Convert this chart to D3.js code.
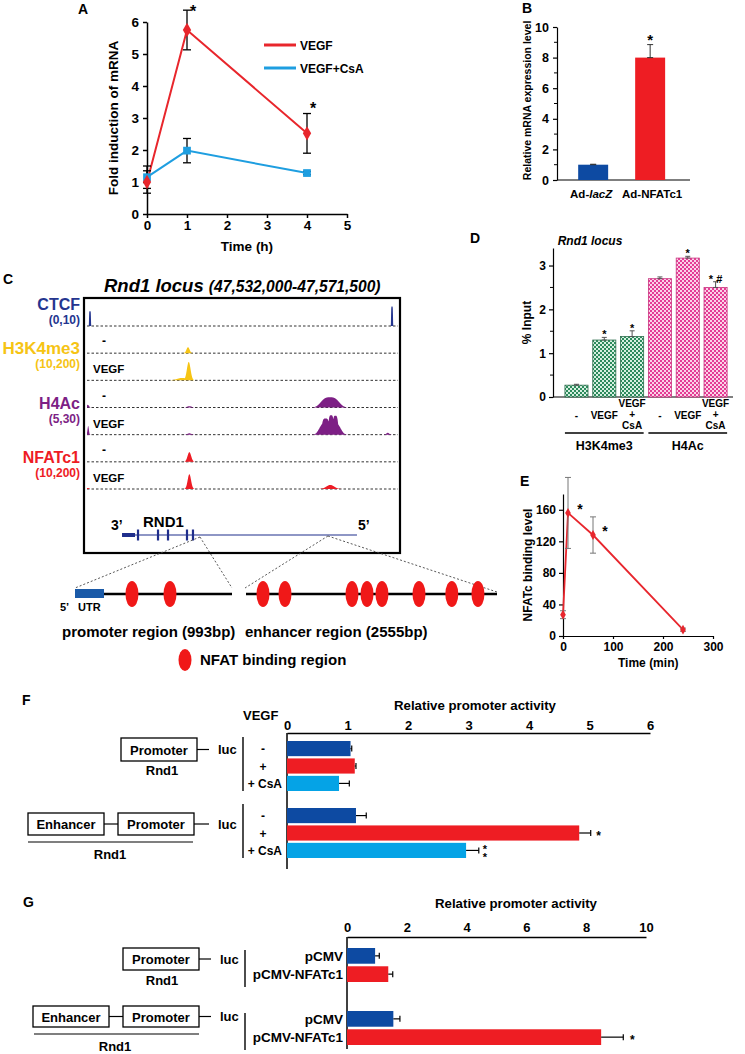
<!DOCTYPE html>
<html><head><meta charset="utf-8">
<script src="https://cdn.jsdelivr.net/npm/d3@7/dist/d3.min.js"></script>
<style>
html,body{margin:0;padding:0;background:#fff;}
svg{display:block;}
</style></head><body>
<svg id="fig" width="745" height="1054"></svg>
<script>
// ================= DATA =================
// Panel A
const aTime = [0, 1, 4];
const aVegf = [1.0, 5.75, 2.52];
const aVegfErr = [0.35, 0.62, 0.62];
const aCsa = [1.15, 1.98, 1.28];
const aCsaErr = [0.35, 0.38, 0.05];
const aStarTimes = [1, 4];
const aXTicks = [0, 1, 2, 3, 4, 5];
const aYTicks = [0, 1, 2, 3, 4, 5, 6];
const aSeries = ["VEGF", "VEGF+CsA"];

// Panel B
const bCats = ["Ad-lacZ", "Ad-NFATc1"];
const bVals = [1.0, 8.0];
const bErr = [0.03, 0.85];
const bStars = ["", "*"];
const bYTicks = [0, 2, 4, 6, 8, 10];
const bYMinor = [1, 3, 5, 7, 9];

// Panel C
const cFactors = ["CTCF", "H3K4me3", "H4Ac", "NFATc1"];
const cRanges = ["(0,10)", "(10,200)", "(5,30)", "(10,200)"];
const cRows = ["CTCF", "H3K4me3 -", "H3K4me3 VEGF", "H4Ac -", "H4Ac VEGF", "NFATc1 -", "NFATc1 VEGF"];
const cRowFactor = [0, 1, 1, 2, 2, 3, 3];
const cRowTreat = ["", "-", "VEGF", "-", "VEGF", "-", "VEGF"];
const cSpanKb = [0, 39.5];
// [row, centre kb, width kb, relative height, shape exponent]
const cPeaks = [
  ["CTCF", 0.38, 0.13, 0.55, 8],
  ["CTCF", 38.74, 0.13, 0.72, 8],
  ["H3K4me3 -", 12.83, 0.28, 0.22, 2],
  ["H3K4me3 VEGF", 12.92, 0.33, 0.68, 2],
  ["H3K4me3 VEGF", 12.1, 0.9, 0.09, 2],
  ["H4Ac -", 30.86, 1.35, 0.38, 3],
  ["H4Ac -", 0.1, 0.2, 0.1, 2],
  ["H4Ac -", 13.0, 0.4, 0.05, 2],
  ["H4Ac VEGF", 30.3, 0.55, 0.6, 4],
  ["H4Ac VEGF", 31.0, 0.4, 0.72, 4],
  ["H4Ac VEGF", 31.55, 0.4, 0.7, 4],
  ["H4Ac VEGF", 30.86, 1.45, 0.5, 4],
  ["H4Ac VEGF", 0.15, 0.12, 0.32, 2],
  ["H4Ac VEGF", 13.0, 0.35, 0.05, 2],
  ["H4Ac VEGF", 38.2, 0.25, 0.07, 2],
  ["NFATc1 -", 13.0, 0.32, 0.36, 2],
  ["NFATc1 VEGF", 13.0, 0.3, 0.55, 2],
  ["NFATc1 VEGF", 30.9, 0.7, 0.15, 2],
  ["NFATc1 VEGF", 0.1, 0.2, 0.04, 2]
];
const cGeneKb = [4.45, 34.29];
const cGeneUtrKb = [4.45, 6.1];
const cExonKb = [6.48, 9.02, 10.29, 12.70, 13.46];
const cPromAnchorKb = 14.35;
const cEnhAnchorKb = 30.6;
const cPromBp = [-225, 993];
const cPromSites = [217, 512];
const cEnhBp = [0, 2555];
const cEnhSites = [173, 397, 1079, 1232, 1384, 1761, 2095, 2361];

// Panel D
const dGroups = ["H3K4me3", "H4Ac"];
const dConds = ["-", "VEGF", "VEGF+CsA"];
const dVals = [[0.27, 1.30, 1.38], [2.70, 3.17, 2.50]];
const dErr = [[0.02, 0.06, 0.13], [0.04, 0.04, 0.13]];
const dStars = [["", "*", "*"], ["", "*", "* #"]];
const dYTicks = [0, 1, 2, 3];
const dYMinor = [0.5, 1.5, 2.5];

// Panel E
const eTime = [0, 10, 60, 240];
const eVals = [27, 156, 128, 8];
const eErr = [5, 45, 23, 2];
const eStarTimes = [10, 60];
const eXTicks = [0, 100, 200, 300];
const eYTicks = [0, 40, 80, 120, 160];

// Panel F
const fConstructs = ["Promoter", "Enhancer-Promoter"];
const fConds = ["-", "+", "+ CsA"];
const fVals = [[1.05, 1.12, 0.86], [1.14, 4.83, 2.96]];
const fErr = [[0.02, 0.02, 0.17], [0.17, 0.19, 0.21]];
const fStars = [["", "", ""], ["", "*", "**"]];
const fTicks = [0, 1, 2, 3, 4, 5, 6];

// Panel G
const gConstructs = ["Promoter", "Enhancer-Promoter"];
const gConds = ["pCMV", "pCMV-NFATc1"];
const gVals = [[0.94, 1.38], [1.55, 8.5]];
const gErr = [[0.14, 0.15], [0.22, 0.74]];
const gStars = [["", ""], ["", "*"]];
const gTicks = [0, 2, 4, 6, 8, 10];

// ================= STYLE =================
const FONT = '"Liberation Sans", Arial, Helvetica, sans-serif';
const RED = "#ee1d23", BLUE = "#0d4aa2", LBLUE = "#05a3e6";
const A_RED = "#e8262c", A_BLUE = "#1e9ee0";
const C_COL = ["#24358f", "#f6c414", "#7d1f85", "#ee1c25"];
const intFmt = d3.format("d");

const svg = d3.select("#fig").attr("font-family", FONT);

function T(g, x, y, s, o = {}) {
  const t = g.append("text").attr("x", x).attr("y", y).text(s)
    .attr("font-size", o.size || 13).attr("font-weight", o.weight || "bold")
    .attr("text-anchor", o.anchor || "start").attr("fill", o.fill || "#000")
    .attr("font-family", FONT);
  if (o.italic) t.attr("font-style", "italic");
  if (o.rotate) t.attr("transform", `rotate(${o.rotate},${x},${y})`);
  return t;
}
function styleAxis(sel, size, sw = 1.5) {
  sel.attr("font-family", FONT).attr("font-size", size).attr("font-weight", "bold");
  sel.selectAll("path,line").attr("stroke", "#000").attr("stroke-width", sw);
  sel.selectAll("text").attr("fill", "#000");
}
function vErr(g, x, y1, y2, cap, col = "#000", sw = 1.3) {
  g.append("line").attr("x1", x).attr("x2", x).attr("y1", y1).attr("y2", y2).attr("stroke", col).attr("stroke-width", sw);
  [y1, y2].forEach(y => g.append("line").attr("x1", x - cap / 2).attr("x2", x + cap / 2).attr("y1", y).attr("y2", y).attr("stroke", col).attr("stroke-width", sw));
}

// ================= PANEL A =================
{
  const g = svg.append("g");
  const x = d3.scaleLinear().domain([0, 5]).range([147, 347]);
  const y = d3.scaleLinear().domain([0, 6]).range([214, 22]);
  const ax = g.append("g").attr("transform", `translate(0,${y(0)})`)
    .call(d3.axisBottom(x).tickValues(aXTicks).tickFormat(intFmt).tickSize(4).tickSizeOuter(0).tickPadding(2));
  styleAxis(ax, 13.5);
  const ay = g.append("g").attr("transform", `translate(${x(0)},0)`)
    .call(d3.axisLeft(y).tickValues(aYTicks).tickFormat(intFmt).tickSize(4).tickSizeOuter(0).tickPadding(4));
  styleAxis(ay, 13.5);
  T(g, 118, y(3), "Fold induction of mRNA", { size: 13.5, anchor: "middle", rotate: -90 });
  T(g, x(2.5), 251, "Time (h)", { size: 13.5, anchor: "middle" });
  T(g, 78, 14, "A", { size: 14 });

  const line = d3.line().x((d, i) => x(aTime[i])).y(d => y(d));
  g.append("path").datum(aCsa).attr("d", line).attr("fill", "none").attr("stroke", A_BLUE).attr("stroke-width", 2);
  g.append("path").datum(aVegf).attr("d", line).attr("fill", "none").attr("stroke", A_RED).attr("stroke-width", 2);
  aCsa.forEach((v, i) => vErr(g, x(aTime[i]), y(v - aCsaErr[i]), y(v + aCsaErr[i]), 8));
  aVegf.forEach((v, i) => vErr(g, x(aTime[i]), y(v - aVegfErr[i]), y(v + aVegfErr[i]), 8));
  aCsa.forEach((v, i) => g.append("path").attr("d", d3.symbol(d3.symbolSquare, 60)())
    .attr("transform", `translate(${x(aTime[i])},${y(v)})`).attr("fill", A_BLUE));
  aVegf.forEach((v, i) => g.append("path").attr("d", d3.symbol(d3.symbolDiamond, 60)())
    .attr("transform", `translate(${x(aTime[i])},${y(v)})`).attr("fill", A_RED));
  aStarTimes.forEach(t => {
    const i = aTime.indexOf(t);
    T(g, x(t) + 6, Math.max(y(aVegf[i] + aVegfErr[i]), 17), "*", { size: 16, anchor: "middle" });
  });
  const lc = [A_RED, A_BLUE];
  aSeries.forEach((s, i) => {
    g.append("line").attr("x1", 264).attr("x2", 296).attr("y1", 45 + i * 23).attr("y2", 45 + i * 23)
      .attr("stroke", lc[i]).attr("stroke-width", 3);
    T(g, 300, 49.5 + i * 23, s, { size: 12 });
  });
}

// ================= PANEL B =================
{
  const g = svg.append("g");
  const y = d3.scaleLinear().domain([0, 10]).range([180, 27]);
  const x = d3.scaleBand().domain(bCats).range([557, 690]).paddingInner(0.474).paddingOuter(0.404).align(0.46);
  const ay = g.append("g").attr("transform", "translate(557,0)")
    .call(d3.axisLeft(y).tickValues(bYTicks).tickFormat(intFmt).tickSize(4).tickSizeOuter(0).tickPadding(4));
  styleAxis(ay, 12.5, 1.2);
  bYMinor.forEach(v => g.append("line").attr("x1", 557).attr("x2", 554).attr("y1", y(v)).attr("y2", y(v)).attr("stroke", "#000").attr("stroke-width", 1));
  g.append("line").attr("x1", x.range()[0]).attr("x2", x.range()[1]).attr("y1", y(0)).attr("y2", y(0)).attr("stroke", "#000").attr("stroke-width", 1.2);
  const cols = [BLUE, RED];
  bCats.forEach((c, i) => {
    g.append("rect").attr("x", x(c)).attr("y", y(bVals[i])).attr("width", x.bandwidth()).attr("height", y(0) - y(bVals[i])).attr("fill", cols[i]);
    vErr(g, x(c) + x.bandwidth() / 2, y(bVals[i]), y(bVals[i] + bErr[i]), 6, "#333", 1);
    if (bStars[i]) T(g, x(c) + x.bandwidth() / 2, y(bVals[i] + bErr[i]), bStars[i], { size: 15, anchor: "middle" });
  });
  const t1 = T(g, x(bCats[0]) + x.bandwidth() / 2 - 2, 198, "", { size: 11.5, anchor: "middle" });
  t1.append("tspan").text("Ad-");
  t1.append("tspan").text("lacZ").attr("font-style", "italic");
  T(g, x(bCats[1]) + x.bandwidth() / 2 + 2, 198, bCats[1], { size: 11.5, anchor: "middle" });
  T(g, 531, y(5.2), "Relative mRNA expression level", { size: 10.5, anchor: "middle", rotate: -90 });
  T(g, 522, 13, "B", { size: 14 });
}

// ================= PANEL C =================
{
  const g = svg.append("g");
  const x = d3.scaleLinear().domain(cSpanKb).range([87, 398]);
  const rowY = d3.scalePoint().domain(cRows).range([326, 489]);
  const h = d3.scaleLinear().domain([0, 1]).range([0, 27]);
  T(g, 3, 284, "C", { size: 14 });
  const tt = T(g, 104, 292, "", { italic: true });
  tt.append("tspan").text("Rnd1 locus ").attr("font-size", 18.5);
  tt.append("tspan").text("(47,532,000-47,571,500)").attr("font-size", 15.6);
  g.append("rect").attr("x", 84).attr("y", 298).attr("width", 316).attr("height", 255)
    .attr("fill", "none").attr("stroke", "#000").attr("stroke-width", 2.2);
  cRows.forEach(r => g.append("line").attr("x1", x(cSpanKb[0])).attr("x2", x(cSpanKb[1]))
    .attr("y1", rowY(r)).attr("y2", rowY(r)).attr("stroke", "#333").attr("stroke-width", 1).attr("stroke-dasharray", "2.5,2"));
  const kbs = d3.range(cSpanKb[0], cSpanKb[1] + 0.001, 0.02);
  cRows.forEach((r, i) => {
    const comps = cPeaks.filter(p => p[0] === r);
    const prof = kbs.map(k => [k, d3.max(comps, c => c[3] * Math.exp(-Math.pow(Math.abs((k - c[1]) / c[2]), c[4]))) || 0]);
    const area = d3.area().x(d => x(d[0])).y0(rowY(r)).y1(d => rowY(r) - h(d[1]));
    g.append("path").datum(prof).attr("d", area).attr("fill", C_COL[cRowFactor[i]]);
    if (cRowTreat[i]) {
      if (cRowTreat[i] === "-") T(g, 102, rowY(r) - 8, "-", { size: 12 });
      else T(g, 93, rowY(r) - 7, cRowTreat[i], { size: 11.5 });
    }
  });
  cFactors.forEach((f, fi) => {
    const first = cRows[cRowFactor.indexOf(fi)];
    const base = fi === 0 ? rowY(first) - 16 : rowY(first) + 1;
    T(g, 80, base, f, { size: fi === 1 ? 17 : 16, anchor: "end", fill: C_COL[fi] });
    T(g, 80, base + 14, cRanges[fi], { size: 12, anchor: "end", fill: C_COL[fi] });
  });
  const gy = 535, gc = "#1f2e8c";
  g.append("line").attr("x1", x(cGeneKb[0])).attr("x2", x(cGeneKb[1])).attr("y1", gy).attr("y2", gy).attr("stroke", gc).attr("stroke-width", 1.2);
  g.append("rect").attr("x", x(cGeneUtrKb[0])).attr("y", gy - 2).attr("width", x(cGeneUtrKb[1]) - x(cGeneUtrKb[0])).attr("height", 4).attr("fill", gc);
  cExonKb.forEach(k => g.append("line").attr("x1", x(k)).attr("x2", x(k)).attr("y1", gy - 5.5).attr("y2", gy + 5.5).attr("stroke", gc).attr("stroke-width", 2.2));
  T(g, x(cGeneKb[0]) - 11, 530, "3\u2019", { size: 14 });
  T(g, 143, 527, "RND1", { size: 15 });
  T(g, x(cGeneKb[1]) + 1, 530, "5\u2019", { size: 14 });
  const px = d3.scaleLinear().domain(cPromBp).range([75, 232]);
  const ex = d3.scaleLinear().domain(cEnhBp).range([246, 497]);
  const ry = 594;
  const dash = (x1, y1, x2, y2) => g.append("line").attr("x1", x1).attr("y1", y1).attr("x2", x2).attr("y2", y2)
    .attr("stroke", "#444").attr("stroke-width", 0.9).attr("stroke-dasharray", "2,2");
  dash(x(cPromAnchorKb), 537, px(cPromBp[0]), ry - 6);
  dash(x(cPromAnchorKb), 537, px(cPromBp[1]), ry - 6);
  dash(x(cEnhAnchorKb), 536, ex(cEnhBp[0]) - 1, ry - 6);
  dash(x(cEnhAnchorKb), 536, ex(cEnhBp[1]), ry - 2);
  g.append("rect").attr("x", px(cPromBp[0])).attr("y", ry - 5).attr("width", px(0) - px(cPromBp[0])).attr("height", 9).attr("fill", "#1a5aa8");
  g.append("line").attr("x1", px(0)).attr("x2", px(cPromBp[1])).attr("y1", ry).attr("y2", ry).attr("stroke", "#000").attr("stroke-width", 2.5);
  g.append("line").attr("x1", ex(cEnhBp[0])).attr("x2", ex(cEnhBp[1])).attr("y1", ry).attr("y2", ry).attr("stroke", "#000").attr("stroke-width", 2.5);
  cPromSites.forEach(b => g.append("ellipse").attr("cx", px(b)).attr("cy", ry).attr("rx", 6.5).attr("ry", 13).attr("fill", "#f01818"));
  cEnhSites.forEach(b => g.append("ellipse").attr("cx", ex(b)).attr("cy", ry).attr("rx", 6.5).attr("ry", 13).attr("fill", "#f01818"));
  T(g, 60, 611, "5\u2019", { size: 11 });
  T(g, 78, 611, "UTR", { size: 11 });
  T(g, 62, 637, "promoter region (993bp)", { size: 15 });
  T(g, 245, 637, "enhancer region (2555bp)", { size: 15 });
  g.append("ellipse").attr("cx", 185).attr("cy", 660).attr("rx", 6.5).attr("ry", 11).attr("fill", "#f01818");
  T(g, 200, 665, "NFAT binding region", { size: 15 });
}

// ================= PANEL D =================
{
  const g = svg.append("g");
  const defs = svg.append("defs");
  const mk = (id, c1, c2) => {
    const p = defs.append("pattern").attr("id", id).attr("width", 4).attr("height", 4).attr("patternUnits", "userSpaceOnUse");
    p.append("rect").attr("width", 4).attr("height", 4).attr("fill", c2);
    p.append("rect").attr("width", 2).attr("height", 2).attr("fill", c1);
    p.append("rect").attr("x", 2).attr("y", 2).attr("width", 2).attr("height", 2).attr("fill", c1);
  };
  mk("chkG", "#2c8a5c", "#d6efe0");
  mk("chkP", "#e43c95", "#fbd3e8");
  const fills = ["url(#chkG)", "url(#chkP)"], strokes = ["#2f6f4e", "#c7357f"];
  const ids = [];
  dGroups.forEach(gr => dConds.forEach(c => ids.push(gr + "|" + c)));
  const x = d3.scaleBand().domain(ids).range([553, 733]).paddingInner(0.17).paddingOuter(0.32).align(0.67);
  const y = d3.scaleLinear().domain([0, 3.4]).range([397, 248]);
  const ay = g.append("g").attr("transform", "translate(553,0)")
    .call(d3.axisLeft(y).tickValues(dYTicks).tickFormat(intFmt).tickSize(4).tickSizeOuter(0).tickPadding(3));
  styleAxis(ay, 12, 1.2);
  dYMinor.forEach(v => g.append("line").attr("x1", 553).attr("x2", 550).attr("y1", y(v)).attr("y2", y(v)).attr("stroke", "#000").attr("stroke-width", 1));
  g.append("line").attr("x1", x.range()[0]).attr("x2", x.range()[1]).attr("y1", y(0)).attr("y2", y(0)).attr("stroke", "#000").attr("stroke-width", 1.2);
  dGroups.forEach((gr, gi) => {
    dConds.forEach((c, ci) => {
      const id = gr + "|" + c, v = dVals[gi][ci], e = dErr[gi][ci], cx = x(id) + x.bandwidth() / 2;
      g.append("rect").attr("x", x(id)).attr("y", y(v)).attr("width", x.bandwidth()).attr("height", y(0) - y(v))
        .attr("fill", fills[gi]).attr("stroke", strokes[gi]).attr("stroke-width", 0.8);
      vErr(g, cx, y(v), y(v + e), 5, "#555", 1);
      if (dStars[gi][ci]) T(g, cx, y(v + e) + 1, dStars[gi][ci], { size: 11, anchor: "middle" });
      if (c === "VEGF+CsA") {
        T(g, cx, 407, "VEGF", { size: 10, anchor: "middle" });
        T(g, cx, 418, "+", { size: 10, anchor: "middle" });
        T(g, cx, 429, "CsA", { size: 10, anchor: "middle" });
      } else T(g, cx, 419, c, { size: 10, anchor: "middle" });
    });
    const x0 = x(gr + "|" + dConds[0]), x1 = x(gr + "|" + dConds[2]) + x.bandwidth();
    g.append("line").attr("x1", x0).attr("x2", x1).attr("y1", 433).attr("y2", 433).attr("stroke", "#000").attr("stroke-width", 1.6);
    T(g, (x0 + x1) / 2, 450, gr, { size: 12.5, anchor: "middle" });
  });
  T(g, 531, y(1.7), "% Input", { size: 12, anchor: "middle", rotate: -90 });
  T(g, 470, 243, "D", { size: 14 });
  T(g, 590, 245, "Rnd1 locus", { size: 12, anchor: "middle", italic: true });
}

// ================= PANEL E =================
{
  const g = svg.append("g");
  const x = d3.scaleLinear().domain([0, 300]).range([563, 713]);
  const y = d3.scaleLinear().domain([0, 180]).range([636, 494]);
  const ax = g.append("g").attr("transform", `translate(0,${y(0)})`)
    .call(d3.axisBottom(x).tickValues(eXTicks).tickFormat(intFmt).tickSize(3).tickSizeOuter(0).tickPadding(3));
  styleAxis(ax, 12, 1.2);
  const ay = g.append("g").attr("transform", `translate(${x(0)},0)`)
    .call(d3.axisLeft(y).tickValues(eYTicks).tickFormat(intFmt).tickSize(4).tickSizeOuter(0).tickPadding(3));
  styleAxis(ay, 12, 1.2);
  const line = d3.line().x((d, i) => x(eTime[i])).y(d => y(d));
  g.append("path").datum(eVals).attr("d", line).attr("fill", "none").attr("stroke", "#e8262d").attr("stroke-width", 1.8);
  eVals.forEach((v, i) => vErr(g, x(eTime[i]), y(v - eErr[i]), y(v + eErr[i]), 6, "#777", 1));
  eVals.forEach((v, i) => g.append("path").attr("d", d3.symbol(d3.symbolDiamond, 28)())
    .attr("transform", `translate(${x(eTime[i])},${y(v)})`).attr("fill", "#e8262d"));
  eStarTimes.forEach(t => {
    const i = eTime.indexOf(t);
    T(g, x(t) + 12, y(eVals[i]) + 1, "*", { size: 14, anchor: "middle" });
  });
  T(g, 532, y(90), "NFATc binding level", { size: 12, anchor: "middle", rotate: -90 });
  T(g, 618, 667, "Time (min)", { size: 12 });
  T(g, 520, 486, "E", { size: 14 });
}

// ================= PANEL F =================
{
  const g = svg.append("g");
  const x = d3.scaleLinear().domain([0, 6]).range([287, 650]);
  const outer = d3.scaleBand().domain(fConstructs).range([741, 875]);
  const inner = d3.scaleBand().domain(fConds).range([0, 50]).paddingInner(0.13);
  const ax = g.append("g").attr("transform", "translate(0,733)")
    .call(d3.axisTop(x).tickValues(fTicks).tickFormat(intFmt).tickSize(0).tickSizeOuter(0).tickPadding(3));
  styleAxis(ax, 13, 1.5);
  g.append("line").attr("x1", x(0)).attr("x2", x(0)).attr("y1", 733).attr("y2", 869).attr("stroke", "#000").attr("stroke-width", 1.5);
  T(g, 475, 710, "Relative promoter activity", { size: 13.25, anchor: "middle" });
  T(g, 22, 705, "F", { size: 14 });
  T(g, 243, 720, "VEGF", { size: 13 });
  const cols = [BLUE, RED, LBLUE];
  fConstructs.forEach((c, gi) => {
    const y0 = outer(c);
    fConds.forEach((k, ci) => {
      const yy = y0 + inner(k), v = fVals[gi][ci], e = fErr[gi][ci], cy = yy + inner.bandwidth() / 2;
      g.append("rect").attr("x", x(0)).attr("y", yy).attr("width", x(v) - x(0)).attr("height", inner.bandwidth()).attr("fill", cols[ci]);
      g.append("line").attr("x1", x(v)).attr("x2", x(v + e)).attr("y1", cy).attr("y2", cy).attr("stroke", "#000").attr("stroke-width", 1.2);
      g.append("line").attr("x1", x(v + e)).attr("x2", x(v + e)).attr("y1", cy - 3).attr("y2", cy + 3).attr("stroke", "#000").attr("stroke-width", 1.2);
      const st = fStars[gi][ci];
      if (st === "*") T(g, x(v + e) + 8, cy + 6.5, "*", { size: 12, anchor: "middle" });
      if (st === "**") {
        const t = T(g, x(v + e) + 6, cy + 3, "", { size: 11, anchor: "middle" });
        t.append("tspan").attr("x", x(v + e) + 6).text("*");
        t.append("tspan").attr("x", x(v + e) + 6).attr("dy", 7.5).text("*");
      }
      if (k.length === 1) T(g, 263, cy + 4.5, k, { size: 12, anchor: "middle" });
      else T(g, 282, cy + 4.5, k, { size: 12, anchor: "end" });
    });
    g.append("line").attr("x1", 243).attr("x2", 243).attr("y1", y0 - 4).attr("y2", y0 + 50).attr("stroke", "#000").attr("stroke-width", 1.4);
  });
  const box = (bx, by, w, hgt, label) => {
    g.append("rect").attr("x", bx).attr("y", by).attr("width", w).attr("height", hgt).attr("fill", "#fff").attr("stroke", "#000").attr("stroke-width", 1.3);
    T(g, bx + w / 2, by + hgt / 2 + 5, label, { size: 13, anchor: "middle" });
  };
  const hl = (x1, x2, yy) => g.append("line").attr("x1", x1).attr("x2", x2).attr("y1", yy).attr("y2", yy).attr("stroke", "#000").attr("stroke-width", 1.2);
  let y0 = outer(fConstructs[0]);
  box(121, y0 - 3, 76, 23, "Promoter"); hl(197, 209, y0 + 8.5);
  T(g, 218, y0 + 13, "luc", { size: 13 });
  T(g, 162, y0 + 34, "Rnd1", { size: 13, anchor: "middle" });
  y0 = outer(fConstructs[1]);
  box(28, y0 + 5, 76, 22, "Enhancer"); hl(104, 118, y0 + 16);
  box(118, y0 + 5, 76, 22, "Promoter"); hl(194, 209, y0 + 16);
  T(g, 218, y0 + 21, "luc", { size: 13 });
  hl(28, 193, y0 + 34);
  T(g, 110, y0 + 51, "Rnd1", { size: 13, anchor: "middle" });
}

// ================= PANEL G =================
{
  const g = svg.append("g");
  const x = d3.scaleLinear().domain([0, 10]).range([347, 646]);
  const outer = d3.scaleBand().domain(gConstructs).range([948, 1074]);
  const inner = d3.scaleBand().domain(gConds).range([0, 34]).paddingInner(0.14);
  const ax = g.append("g").attr("transform", "translate(0,937)")
    .call(d3.axisTop(x).tickValues(gTicks).tickFormat(intFmt).tickSize(0).tickSizeOuter(0).tickPadding(5));
  styleAxis(ax, 13, 1.5);
  g.append("line").attr("x1", x(0)).attr("x2", x(0)).attr("y1", 937).attr("y2", 1049).attr("stroke", "#000").attr("stroke-width", 1.5);
  T(g, 516, 908, "Relative promoter activity", { size: 13.25, anchor: "middle" });
  T(g, 23, 907, "G", { size: 14 });
  const cols = [BLUE, RED];
  gConstructs.forEach((c, gi) => {
    const y0 = outer(c);
    gConds.forEach((k, ci) => {
      const yy = y0 + inner(k), v = gVals[gi][ci], e = gErr[gi][ci], cy = yy + inner.bandwidth() / 2;
      g.append("rect").attr("x", x(0)).attr("y", yy).attr("width", x(v) - x(0)).attr("height", inner.bandwidth()).attr("fill", cols[ci]);
      g.append("line").attr("x1", x(v)).attr("x2", x(v + e)).attr("y1", cy).attr("y2", cy).attr("stroke", "#000").attr("stroke-width", 1.2);
      g.append("line").attr("x1", x(v + e)).attr("x2", x(v + e)).attr("y1", cy - 3).attr("y2", cy + 3).attr("stroke", "#000").attr("stroke-width", 1.2);
      if (gStars[gi][ci]) T(g, x(v + e) + 9, cy + 7, "*", { size: 12, anchor: "middle" });
      T(g, 343, cy + 5, k, { size: 13.5, anchor: "end" });
    });
    g.append("line").attr("x1", 245).attr("x2", 245).attr("y1", y0 + 2).attr("y2", y0 + 39).attr("stroke", "#000").attr("stroke-width", 1.4);
  });
  const box = (bx, by, w, hgt, label) => {
    g.append("rect").attr("x", bx).attr("y", by).attr("width", w).attr("height", hgt).attr("fill", "#fff").attr("stroke", "#000").attr("stroke-width", 1.3);
    T(g, bx + w / 2, by + hgt / 2 + 5, label, { size: 13, anchor: "middle" });
  };
  const hl = (x1, x2, yy) => g.append("line").attr("x1", x1).attr("x2", x2).attr("y1", yy).attr("y2", yy).attr("stroke", "#000").attr("stroke-width", 1.2);
  let y0 = outer(gConstructs[0]);
  box(123, y0, 76, 22, "Promoter"); hl(199, 211, y0 + 11);
  T(g, 220, y0 + 16, "luc", { size: 13 });
  T(g, 162, y0 + 37, "Rnd1", { size: 13, anchor: "middle" });
  y0 = outer(gConstructs[1]);
  box(33, y0 - 5, 76, 21, "Enhancer"); hl(109, 123, y0 + 5.5);
  box(123, y0 - 5, 76, 21, "Promoter"); hl(199, 211, y0 + 5.5);
  T(g, 220, y0 + 10, "luc", { size: 13 });
  hl(34, 199, y0 + 23);
  T(g, 115, y0 + 40, "Rnd1", { size: 13, anchor: "middle" });
}
</script>
</body></html>
